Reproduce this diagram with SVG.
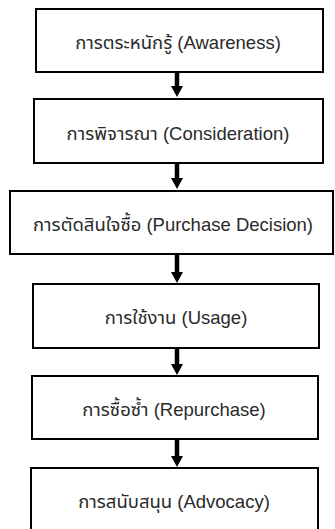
<svg xmlns="http://www.w3.org/2000/svg" width="335" height="529" viewBox="0 0 335 529">
  <style>
    .box { fill: #ffffff; stroke: #000000; stroke-width: 2; }
    .label { font-family: "Liberation Sans", "Noto Sans", "Noto Sans Thai", "DejaVu Sans", sans-serif; font-size: 18.5px; fill: #2a2a2a; text-anchor: middle; }
    .shaft { stroke: #000000; stroke-width: 4.5; }
  </style>
  <rect width="335" height="529" fill="#ffffff"/>

  <!-- downward block arrows between the stages -->
  <g id="connectors">
    <line class="shaft" x1="177" y1="73" x2="177" y2="88"/>
    <path d="M171,86 L183,86 L177,97 Z"/>
    <line class="shaft" x1="177" y1="164" x2="177" y2="180"/>
    <path d="M171,178 L183,178 L177,189 Z"/>
    <line class="shaft" x1="177" y1="255" x2="177" y2="273"/>
    <path d="M171,272 L183,272 L177,283 Z"/>
    <line class="shaft" x1="177" y1="349" x2="177" y2="365"/>
    <path d="M171,364 L183,364 L177,375 Z"/>
    <line class="shaft" x1="177" y1="440" x2="177" y2="457"/>
    <path d="M171,456 L183,456 L177,467 Z"/>
  </g>

  <g id="awareness">
    <rect class="box" x="36" y="9" width="287" height="63"/>
    <text class="label" x="178" y="49">การตระหนักรู้ (Awareness)</text>
  </g>
  <g id="consideration">
    <rect class="box" x="34" y="99" width="289" height="64"/>
    <text class="label" x="178" y="140">การพิจารณา (Consideration)</text>
  </g>
  <g id="purchase-decision">
    <rect class="box" x="10" y="191" width="323" height="63"/>
    <text class="label" x="173" y="231">การตัดสินใจซื้อ (Purchase Decision)</text>
  </g>
  <g id="usage">
    <rect class="box" x="33" y="284" width="286" height="64"/>
    <text class="label" x="176" y="324">การใช้งาน (Usage)</text>
  </g>
  <g id="repurchase">
    <rect class="box" x="32" y="376" width="286" height="63"/>
    <text class="label" x="174" y="416">การซื้อซ้ำ (Repurchase)</text>
  </g>
  <g id="advocacy">
    <rect class="box" x="31" y="468" width="287" height="70"/>
    <text class="label" x="174" y="508">การสนับสนุน (Advocacy)</text>
  </g>
</svg>
